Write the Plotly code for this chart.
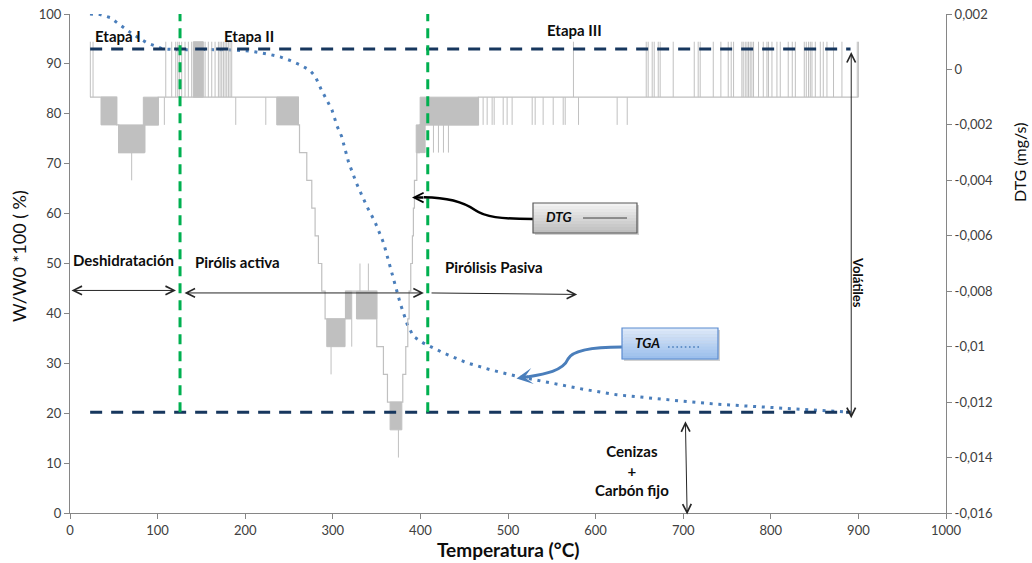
import plotly.graph_objects as go

# ---------------- data ----------------
# TGA: residual mass W/W0*100 (%) against temperature (°C)
TGA_T = [22.8, 34.3, 45.7, 57, 72, 88, 106, 126, 150, 186, 209, 225, 240, 251, 263,
         274, 280, 287, 293, 299, 305, 310, 318, 327, 339, 348, 358, 369, 377, 385,
         392, 403, 411, 426, 453, 480, 510, 548, 586, 624, 662, 700, 738, 777, 815,
         853, 891]
TGA_W = [100, 99.9, 99.3, 97.9, 95.9, 94.2, 93.0, 92.8, 92.9, 92.8, 92.5, 92.0, 91.4,
         90.7, 89.8, 88.7, 87.5, 84.8, 82.8, 80.8, 77.5, 75.5, 70.3, 66.1, 61.4, 58.4,
         54.1, 47.2, 42.0, 37.8, 35.4, 34.1, 33.4, 32.1, 30.1, 28.7, 27.4, 26.1, 24.8,
         23.7, 23.0, 22.4, 21.8, 21.4, 21.0, 20.7, 20.2]

# DTG (mg/s): main stepped signal
DTG_T = [22.8, 53.3, 55.5, 84.5, 100.8, 260.7, 262, 270.3, 276, 279.8, 283.6, 287.4,
         291.2, 314.5, 350.2, 357.8, 362.4, 379.9, 383.3, 385.6, 387.1, 389, 390.9,
         392, 393.2, 395.9, 398.9, 466.3, 900]
DTG_V = [-0.001, -0.002, -0.003, -0.002, -0.001, -0.002, -0.003, -0.004, -0.005, -0.006,
         -0.007, -0.008, -0.009, -0.008, -0.010, -0.011, -0.012, -0.011, -0.010, -0.009,
         -0.008, -0.007, -0.006, -0.005, -0.004, -0.003, -0.002, -0.001, -0.001]

# DTG: intervals where the signal flickers between two adjacent levels
BAND_T0 = [35.4, 55.5, 83.7, 140.8, 236, 293.1, 315, 327, 365.4, 395.2, 399.7]
BAND_T1 = [53.3, 85.6, 100.8, 152.2, 260.7, 314, 321.6, 350.2, 378.8, 405.4, 466.3]
BAND_LO = [-0.002, -0.003, -0.002, -0.001, -0.002, -0.010, -0.009, -0.009, -0.013, -0.003, -0.002]
BAND_HI = [-0.001, -0.002, -0.001, 0.001, -0.001, -0.009, -0.008, -0.008, -0.012, -0.002, -0.001]

# DTG: isolated one-sample excursions (-0.001 -> 0.001)
SPIKE_UP_T = [23.2, 26.3, 109.3, 116.1, 120.7, 123, 124.8, 127.5, 131.3, 135.1, 138.9,
              154.2, 157.9, 161.8, 165.6, 169.4, 171.3, 173.2, 175.1, 177, 178.9, 180.8,
              182.7, 184.6, 574.7, 657.8, 660, 664.6, 666.9, 671.5, 673.7, 688.6, 712.6,
              717.1, 719.4, 734.3, 743, 751.4, 754.8, 757.5, 767, 768.5, 770.8, 772.8,
              774.6, 776.5, 778.4, 780.3, 786, 791.4, 795.6, 797.4, 801.3, 807, 810.8,
              819.9, 824.5, 828, 838.2, 840.5, 843.1, 845.1, 847, 850.8, 856.5, 859.9,
              864.1, 871.6, 881.2, 898.7, 900]
# DTG: isolated one-sample excursions (-0.001 -> -0.002)
SPIKE_DOWN_T = [107.7, 189.2, 223.5, 471.6, 476.2, 481.9, 484.2, 494.5, 499, 504.7,
                527.6, 531, 540.1, 551.6, 563, 565.3, 580.5, 624.6, 636.1]
# DTG: other excursions (temperature, level left, level reached)
SPIKE_T = [70.4, 298, 321.6, 331, 340.6, 374.9, 414.9, 420.6, 426.3, 432]
SPIKE_FROM = [-0.003, -0.010, -0.009, -0.008, -0.008, -0.013, -0.002, -0.002, -0.002, -0.002]
SPIKE_TO = [-0.004, -0.011, -0.010, -0.007, -0.007, -0.014, -0.003, -0.003, -0.003, -0.003]

# reference levels: start of run / ash + fixed carbon, and stage limits
VOLATILES_W = 93.0
ASH_W = 20.2
LEVEL_T = [23, 891]
STAGE_LIMITS_T = [125.6, 408.4]

X_TICKS = list(range(0, 1001, 100))
Y_TICKS = list(range(0, 101, 10))
DTG_TICKS = [0.002, 0, -0.002, -0.004, -0.006, -0.008, -0.010, -0.012, -0.014, -0.016]
DTG_TICK_TEXT = ["0,002", "0", "-0,002", "-0,004", "-0,006", "-0,008", "-0,01",
                 "-0,012", "-0,014", "-0,016"]

# ---------------- layout helpers ----------------
W, H = 1032, 563
ML, MR, MT, MB = 70, 86, 14, 50
PW, PH = W - ML - MR, H - MT - MB


def px(x):
    return (x - ML) / PW


def py(y):
    return (MT + PH - y) / PH


FONT = "Lato"
GRAY = "#C0C0C0"
NAVY = "#17375E"
GREEN = "#00B050"
BLUE = "#4A7EBB"
AXIS = "#868686"

fig = go.Figure()

# DTG flicker bands
bx, by = [], []
for t0, t1, lo, hi in zip(BAND_T0, BAND_T1, BAND_LO, BAND_HI):
    bx += [t0, t1, t1, t0, t0, None]
    by += [lo, lo, hi, hi, lo, None]
fig.add_trace(go.Scatter(x=bx, y=by, mode="lines", fill="toself", fillcolor=GRAY,
                         line=dict(color=GRAY, width=1), yaxis="y2", hoverinfo="skip"))

# DTG excursions
sx, sy = [], []
for t in SPIKE_UP_T:
    sx += [t, t, None]
    sy += [-0.001, 0.001, None]
for t in SPIKE_DOWN_T:
    sx += [t, t, None]
    sy += [-0.001, -0.002, None]
for t, a, b in zip(SPIKE_T, SPIKE_FROM, SPIKE_TO):
    sx += [t, t, None]
    sy += [a, b, None]
fig.add_trace(go.Scatter(x=sx, y=sy, mode="lines", line=dict(color=GRAY, width=1),
                         yaxis="y2", hoverinfo="skip"))

# DTG main stepped signal
fig.add_trace(go.Scatter(x=DTG_T, y=DTG_V, mode="lines", line_shape="hv",
                         line=dict(color=GRAY, width=1.2), yaxis="y2", name="DTG"))

# TGA dotted curve
fig.add_trace(go.Scatter(x=TGA_T, y=TGA_W, mode="lines",
                         line=dict(color=BLUE, width=3, dash="3px,5.7px"),
                         name="TGA"))

shapes = []
# horizontal reference levels
for lvl in (VOLATILES_W, ASH_W):
    shapes.append(dict(type="line", xref="x", yref="y", x0=LEVEL_T[0], x1=LEVEL_T[1],
                       y0=lvl, y1=lvl, line=dict(color=NAVY, width=3, dash="12px,9px"),
                       layer="above"))
# stage limits
for t in STAGE_LIMITS_T:
    shapes.append(dict(type="line", xref="x", yref="y", x0=t, x1=t, y0=ASH_W, y1=100,
                       line=dict(color=GREEN, width=3, dash="10px,7px"), layer="above"))


def gradient_box(x0, x1, y0, y1, c_top, c_bot, border, n=10):
    def mix(a, b, f):
        a = [int(a[i:i + 2], 16) for i in (1, 3, 5)]
        b = [int(b[i:i + 2], 16) for i in (1, 3, 5)]
        return "rgb(%d,%d,%d)" % tuple(round(p + (q - p) * f) for p, q in zip(a, b))
    # soft shadow
    shapes.append(dict(type="rect", xref="paper", yref="paper", x0=px(x0 + 2), x1=px(x1 + 2),
                       y0=py(y1 + 2), y1=py(y0 + 2), fillcolor="rgba(0,0,0,0.18)",
                       line=dict(width=0), layer="above"))
    step = (y1 - y0) / n
    for i in range(n):
        shapes.append(dict(type="rect", xref="paper", yref="paper", x0=px(x0), x1=px(x1),
                           y0=py(y0 + (i + 1) * step + 0.3), y1=py(y0 + i * step),
                           fillcolor=mix(c_top, c_bot, i / (n - 1)), line=dict(width=0),
                           layer="above"))
    shapes.append(dict(type="rect", xref="paper", yref="paper", x0=px(x0), x1=px(x1),
                       y0=py(y1), y1=py(y0), line=dict(color=border, width=1.2),
                       layer="above"))


def path(points):
    # start point followed by groups of (control, control, end) for cubic segments
    s = "M %.4f,%.4f" % (px(points[0][0]), py(points[0][1]))
    rest = points[1:]
    for i in range(0, len(rest), 3):
        s += " C " + " ".join("%.4f,%.4f" % (px(x), py(y)) for x, y in rest[i:i + 3])
    return s


# DTG callout
shapes.append(dict(type="path", xref="paper", yref="paper",
                   path=path([(533, 219), (500, 219), (485, 217), (475, 210),
                              (465, 203), (450, 197.5), (424, 197.3)]),
                   line=dict(color="#000000", width=2.5), layer="above"))
gradient_box(533, 637, 203, 233, "#F2F2F2", "#BFBFBF", "#595959")
shapes.append(dict(type="line", xref="paper", yref="paper", x0=px(583), x1=px(627),
                   y0=py(218), y1=py(218), line=dict(color="#404040", width=1),
                   layer="above"))

# TGA callout
shapes.append(dict(type="path", xref="paper", yref="paper",
                   path=path([(622, 347), (592, 347), (572, 351), (568, 359),
                              (563, 371), (545, 374), (527, 377)]),
                   line=dict(color=BLUE, width=3), layer="above"))
gradient_box(622, 718, 328, 359, "#DCE8F8", "#9CBFEC", "#5B8BD0")
shapes.append(dict(type="line", xref="paper", yref="paper", x0=px(668), x1=px(701),
                   y0=py(347), y1=py(347), line=dict(color=BLUE, width=1.6, dash="1.6px,2.6px"),
                   layer="above"))

ann = []


def label(text, x, y, size=15, xanchor="left", bold=True, angle=0, color="#0D0D0D"):
    t = "<b>%s</b>" % text if bold else text
    ann.append(dict(text=t, x=px(x), y=py(y), xref="paper", yref="paper", showarrow=False,
                    xanchor=xanchor, yanchor="middle", textangle=angle,
                    font=dict(family=FONT, size=size, color=color)))


def arrow(x, y, ax, ay, both=True, color="#262626", size=1.7):
    ann.append(dict(text="", x=x, y=y, ax=ax, ay=ay, xref="x", yref="y", axref="x",
                    ayref="y", showarrow=True, arrowhead=5, arrowsize=size, arrowwidth=1,
                    arrowcolor=color, arrowside="end+start" if both else "end",
                    startarrowhead=5, startarrowsize=size))


label("Etapa I", 93, 36)
label("Etapa II", 222, 36)
label("Etapa III", 545, 30)
label("Deshidratación", 71, 260)
label("Pirólis activa", 193, 262)
label("Pirólisis Pasiva", 443, 267)
label("Cenizas<br>+<br>Carbón fijo", 632, 470, size=15, xanchor="center")
label("Volátiles", 858, 282, size=13, xanchor="center", angle=90)

# stage arrows
arrow(121, 44.6, 0, 44.6)
arrow(404, 44.1, 129, 44.1)
arrow(579, 43.8, 411, 44.1, both=False)
arrow(891.8, 19.0, 891.8, 92.7)
arrow(704.5, -0.3, 702.5, 18.7)

# callout texts and arrow tips
label("<i>DTG</i>", 544, 217, size=13.5)
label("<i>TGA</i>", 633, 343, size=13.5)
ann.append(dict(text="", x=px(412), y=py(197.5), xref="paper", yref="paper", ax=13, ay=0,
                showarrow=True, arrowhead=5, arrowsize=0.75, arrowwidth=2.5,
                arrowcolor="#000000"))
ann.append(dict(text="", x=px(516.5), y=py(378.5), xref="paper", yref="paper", ax=13, ay=-2,
                showarrow=True, arrowhead=3, arrowsize=0.9, arrowwidth=3, arrowcolor=BLUE))

# axis titles
label("W/W0 *100 ( %)", 19, 256, size=18, xanchor="center", bold=False, angle=-90)
label("DTG (mg/s)", 1020, 163, size=16, xanchor="center", bold=False, angle=-90)
label("Temperatura (°C)", 508, 549, size=19, xanchor="center")

axis_common = dict(showgrid=False, zeroline=False, showline=True, linecolor=AXIS,
                   linewidth=1, ticks="outside", ticklen=5, tickcolor=AXIS,
                   tickfont=dict(family=FONT, size=13, color="#404040"))

fig.update_layout(
    width=W, height=H,
    margin=dict(l=ML, r=MR, t=MT, b=MB, pad=0, autoexpand=False),
    paper_bgcolor="white", plot_bgcolor="white",
    showlegend=False,
    xaxis=dict(range=[0, 1000], tickvals=X_TICKS, **axis_common),
    yaxis=dict(range=[0, 100], tickvals=Y_TICKS, **axis_common),
    yaxis2=dict(range=[-0.016, 0.002], overlaying="y", side="right",
                tickvals=DTG_TICKS, ticktext=DTG_TICK_TEXT, **axis_common),
    shapes=shapes,
    annotations=ann,
)

fig.write_html("out.html")
